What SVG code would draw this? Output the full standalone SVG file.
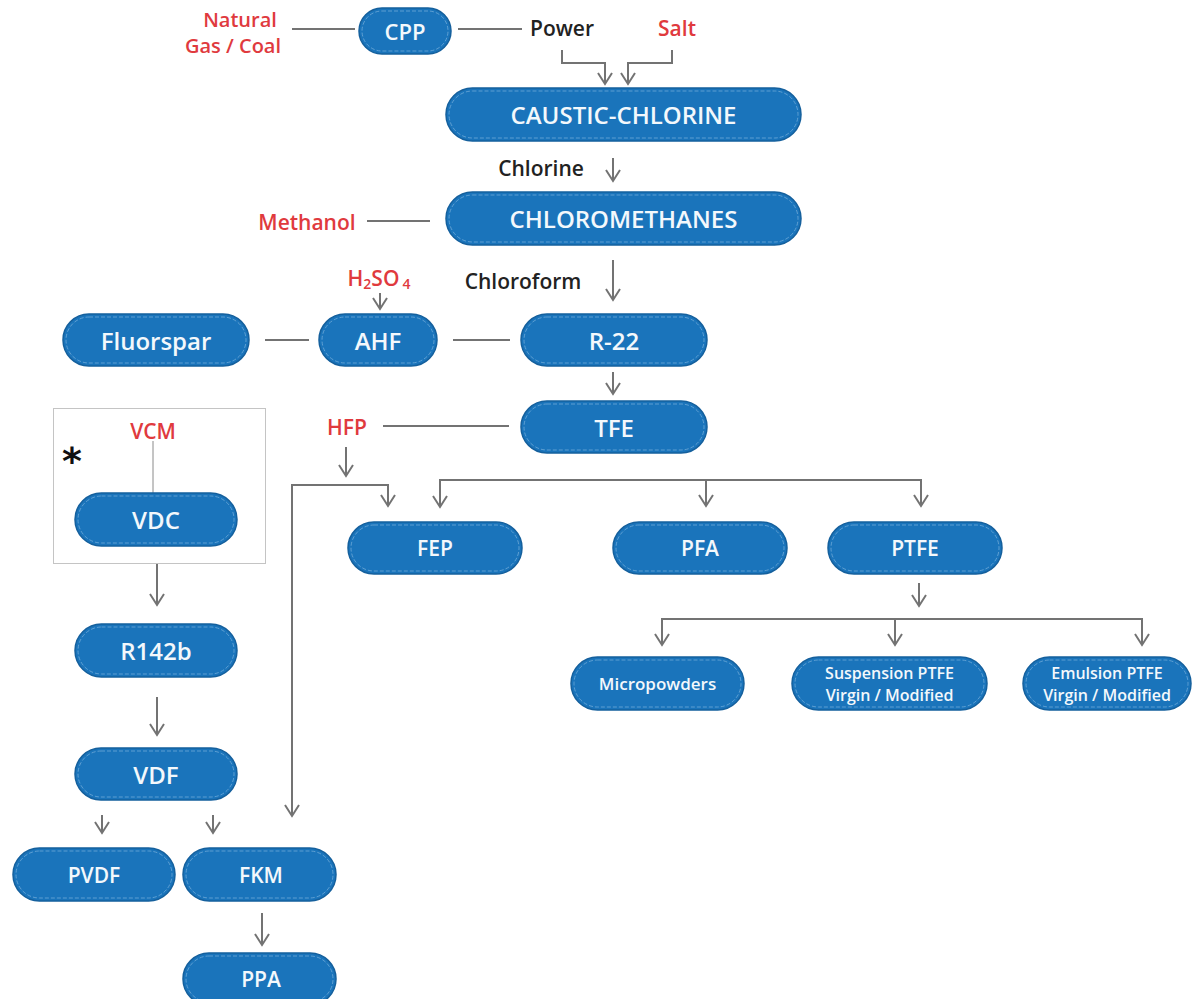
<svg xmlns="http://www.w3.org/2000/svg" width="1202" height="999" viewBox="0 0 1202 999">
<defs>
<style>
.n rect.o{fill:#1a74bb;stroke:#15609d;stroke-width:1.5}
.n rect.i{fill:none;stroke:#6fa9d8;stroke-width:0.8;stroke-dasharray:4 2}
.n text{fill:#f3f8fc;font-family:"Open Sans","Liberation Sans",sans-serif;font-weight:600;text-anchor:middle;dominant-baseline:central}
.lbl{font-family:"Open Sans","Liberation Sans",sans-serif;font-size:21px;font-weight:600;text-anchor:middle;dominant-baseline:central}
.red{fill:#e03a3e}
.blk{fill:#222}
.c path{fill:none;stroke:#737373;stroke-width:2}
.c .a{marker-end:url(#ah)}
.c .b{marker-start:url(#ah);marker-end:url(#ah)}
</style>
<marker id="ah" viewBox="-14 -8 16 16" refX="0" refY="0" markerWidth="16" markerHeight="16" markerUnits="userSpaceOnUse" orient="auto-start-reverse">
<path d="M-11,-7 L0,0 L-11,7" fill="none" stroke="#737373" stroke-width="2"/>
</marker>
</defs>
<rect width="1202" height="999" fill="#ffffff"/>

<rect id="box-vdc" x="53.5" y="408.5" width="212" height="155" fill="none" stroke="#c4c4c4" stroke-width="1"/>

<g id="connectors" class="c">
<path d="M292,29 H355"/>
<path d="M458,29 H522"/>
<path class="a" d="M562,50 V63 H605 V84"/>
<path class="a" d="M672,50 V63 H628 V84"/>
<path class="a" d="M613,158 V181"/>
<path d="M367,221 H430"/>
<path class="a" d="M380,293 V309"/>
<path class="a" d="M613,260 V300"/>
<path d="M265,340 H309"/>
<path d="M453,340 H510"/>
<path class="a" d="M613,372 V394"/>
<path d="M383,426 H509"/>
<path class="a" d="M346,447 V476"/>
<path class="b" d="M292,816 V485 H388 V506"/>
<path class="b" d="M440,507 V480 H921 V506"/>
<path class="a" d="M706,480 V506"/>
<path class="a" d="M919,583 V606"/>
<path class="b" d="M662,645 V619 H1142 V645"/>
<path class="a" d="M895,619 V645"/>
<path style="stroke:#8a8a8a;stroke-width:1" d="M153,441 V493"/>
<path class="a" d="M157,564 V605"/>
<path class="a" d="M157,697 V735"/>
<path class="a" d="M102,815 V833"/>
<path class="a" d="M213,815 V833"/>
<path class="a" d="M262,913 V945"/>
</g>

<g id="labels">
<text class="lbl red" x="240" y="19" style="font-size:20px">Natural</text>
<text class="lbl red" x="233" y="45" style="font-size:20px">Gas / Coal</text>
<text class="lbl blk" x="562" y="28">Power</text>
<text class="lbl red" x="677" y="28">Salt</text>
<text class="lbl blk" x="541" y="168">Chlorine</text>
<text class="lbl red" x="307" y="222">Methanol</text>
<text class="lbl blk" x="523" y="281">Chloroform</text>
<text class="lbl red" x="379" y="278">H<tspan style="font-size:14px" dy="5">2</tspan><tspan dy="-5">SO</tspan><tspan style="font-size:14px" dy="5" dx="3">4</tspan></text>
<text class="lbl red" x="347" y="427">HFP</text>
<text class="lbl red" x="153" y="431">VCM</text>
<text x="72" y="474" font-family="'DejaVu Sans','Liberation Sans',sans-serif" font-size="38" font-weight="700" fill="#111" text-anchor="middle">*</text>
</g>

<g id="node-cpp" class="n"><rect class="o" x="359" y="8" width="92" height="46" rx="23"/><rect class="i" x="362" y="11" width="86" height="40" rx="20"/><text x="405" y="31" font-size="22">CPP</text></g>
<g id="node-caustic" class="n"><rect class="o" x="446" y="88" width="355" height="53" rx="26.5"/><rect class="i" x="449" y="91" width="349" height="47" rx="23.5"/><text x="623.5" y="114.5" font-size="24">CAUSTIC-CHLORINE</text></g>
<g id="node-chloromethanes" class="n"><rect class="o" x="446" y="192" width="355" height="53" rx="26.5"/><rect class="i" x="449" y="195" width="349" height="47" rx="23.5"/><text x="623.5" y="218.5" font-size="24">CHLOROMETHANES</text></g>
<g id="node-fluorspar" class="n"><rect class="o" x="63" y="314" width="186" height="52" rx="26"/><rect class="i" x="66" y="317" width="180" height="46" rx="23"/><text x="156" y="340" font-size="24">Fluorspar</text></g>
<g id="node-ahf" class="n"><rect class="o" x="319" y="314" width="118" height="52" rx="26"/><rect class="i" x="322" y="317" width="112" height="46" rx="23"/><text x="378" y="340" font-size="24">AHF</text></g>
<g id="node-r22" class="n"><rect class="o" x="521" y="314" width="186" height="52" rx="26"/><rect class="i" x="524" y="317" width="180" height="46" rx="23"/><text x="614" y="340" font-size="24">R-22</text></g>
<g id="node-tfe" class="n"><rect class="o" x="521" y="401" width="186" height="52" rx="26"/><rect class="i" x="524" y="404" width="180" height="46" rx="23"/><text x="614" y="427" font-size="24">TFE</text></g>
<g id="node-vdc" class="n"><rect class="o" x="75" y="493" width="162" height="53" rx="26.5"/><rect class="i" x="78" y="496" width="156" height="47" rx="23.5"/><text x="156" y="519.5" font-size="24">VDC</text></g>
<g id="node-r142b" class="n"><rect class="o" x="75" y="624" width="162" height="53" rx="26.5"/><rect class="i" x="78" y="627" width="156" height="47" rx="23.5"/><text x="156" y="650.5" font-size="24">R142b</text></g>
<g id="node-vdf" class="n"><rect class="o" x="75" y="748" width="162" height="52" rx="26"/><rect class="i" x="78" y="751" width="156" height="46" rx="23"/><text x="156" y="774" font-size="24">VDF</text></g>
<g id="node-pvdf" class="n"><rect class="o" x="13" y="848" width="162" height="53" rx="26.5"/><rect class="i" x="16" y="851" width="156" height="47" rx="23.5"/><text x="94" y="874.5" font-size="21">PVDF</text></g>
<g id="node-fkm" class="n"><rect class="o" x="183" y="848" width="153" height="53" rx="26.5"/><rect class="i" x="186" y="851" width="147" height="47" rx="23.5"/><text x="261" y="874.5" font-size="21">FKM</text></g>
<g id="node-ppa" class="n"><rect class="o" x="183" y="953" width="153" height="52" rx="26"/><rect class="i" x="186" y="956" width="147" height="46" rx="23"/><text x="261" y="979" font-size="21">PPA</text></g>
<g id="node-fep" class="n"><rect class="o" x="348" y="522" width="174" height="52" rx="26"/><rect class="i" x="351" y="525" width="168" height="46" rx="23"/><text x="435" y="548" font-size="21">FEP</text></g>
<g id="node-pfa" class="n"><rect class="o" x="613" y="522" width="174" height="52" rx="26"/><rect class="i" x="616" y="525" width="168" height="46" rx="23"/><text x="700" y="548" font-size="21">PFA</text></g>
<g id="node-ptfe" class="n"><rect class="o" x="828" y="522" width="174" height="52" rx="26"/><rect class="i" x="831" y="525" width="168" height="46" rx="23"/><text x="915" y="548" font-size="21">PTFE</text></g>
<g id="node-micropowders" class="n"><rect class="o" x="571" y="657" width="173" height="53" rx="26.5"/><rect class="i" x="574" y="660" width="167" height="47" rx="23.5"/><text x="657.5" y="683.5" font-size="17">Micropowders</text></g>
<g id="node-suspension" class="n"><rect class="o" x="792" y="657" width="195" height="53" rx="26.5"/><rect class="i" x="795" y="660" width="189" height="47" rx="23.5"/><text x="889.5" y="673" font-size="16">Suspension PTFE</text><text x="889.5" y="695" font-size="16">Virgin / Modified</text></g>
<g id="node-emulsion" class="n"><rect class="o" x="1023" y="657" width="168" height="53" rx="26.5"/><rect class="i" x="1026" y="660" width="162" height="47" rx="23.5"/><text x="1107" y="673" font-size="16">Emulsion PTFE</text><text x="1107" y="695" font-size="16">Virgin / Modified</text></g>
</svg>
